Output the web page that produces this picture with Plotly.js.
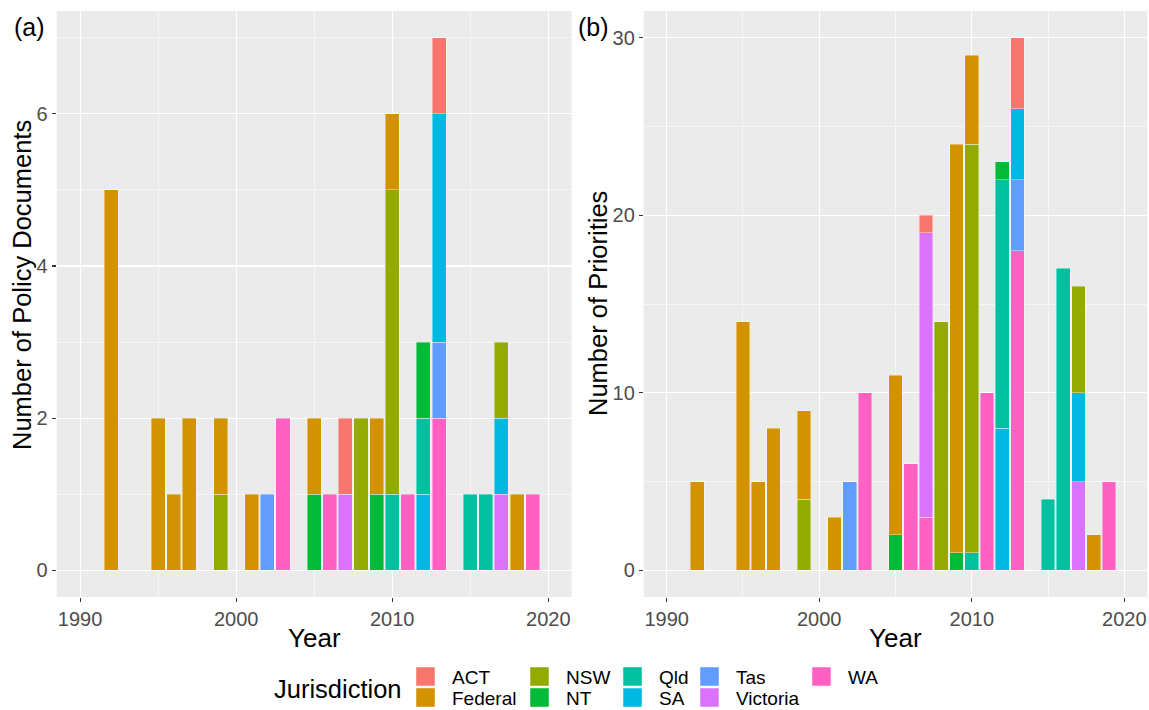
<!DOCTYPE html>
<html><head><meta charset="utf-8">
<script src="https://cdn.plot.ly/plotly-3.0.1.min.js"></script>
<style>html,body{margin:0;padding:0;background:#fff}#chart{width:1149px;height:710px}</style>
</head><body><div id="chart"></div>
<script>
// ---- data ----
const years = [1992,1995,1996,1997,1999,2001,2002,2003,2005,2006,2007,2008,2009,2010,2011,2012,2013,2015,2016,2017,2018,2019];
const jurisdictions = ['ACT','Federal','NSW','NT','Qld','SA','Tas','Victoria','WA'];
const jurisdictionColors = ['#F8766D','#D39200','#93AA00','#00BA38','#00C19F','#00B9E3','#619CFF','#DB72FB','#FF61C3'];

// (a) Number of policy documents
const docACT      = [0,0,0,0,0,0,0,0,0,0,1,0,0,0,0,0,1,0,0,0,0,0];
const docFederal  = [5,2,1,2,1,1,0,0,1,0,0,0,1,1,0,0,0,0,0,0,1,0];
const docNSW      = [0,0,0,0,1,0,0,0,0,0,0,2,0,4,0,0,0,0,0,1,0,0];
const docNT       = [0,0,0,0,0,0,0,0,1,0,0,0,1,0,0,1,0,0,0,0,0,0];
const docQld      = [0,0,0,0,0,0,0,0,0,0,0,0,0,1,0,1,0,1,1,0,0,0];
const docSA       = [0,0,0,0,0,0,0,0,0,0,0,0,0,0,0,1,3,0,0,1,0,0];
const docTas      = [0,0,0,0,0,0,1,0,0,0,0,0,0,0,0,0,1,0,0,0,0,0];
const docVictoria = [0,0,0,0,0,0,0,0,0,0,1,0,0,0,0,0,0,0,0,1,0,0];
const docWA       = [0,0,0,0,0,0,0,2,0,1,0,0,0,0,1,0,2,0,0,0,0,1];

// (b) Number of priorities
const priACT      = [0,0,0,0,0,0,0,0,0,0,1,0,0,0,0,0,4,0,0,0,0,0];
const priFederal  = [5,14,5,8,5,3,0,0,9,0,0,0,23,5,0,0,0,0,0,0,2,0];
const priNSW      = [0,0,0,0,4,0,0,0,0,0,0,14,0,23,0,0,0,0,0,6,0,0];
const priNT       = [0,0,0,0,0,0,0,0,2,0,0,0,1,0,0,1,0,0,0,0,0,0];
const priQld      = [0,0,0,0,0,0,0,0,0,0,0,0,0,1,0,14,0,4,17,0,0,0];
const priSA       = [0,0,0,0,0,0,0,0,0,0,0,0,0,0,0,8,4,0,0,5,0,0];
const priTas      = [0,0,0,0,0,0,5,0,0,0,0,0,0,0,0,0,4,0,0,0,0,0];
const priVictoria = [0,0,0,0,0,0,0,0,0,0,16,0,0,0,0,0,0,0,0,5,0,0];
const priWA       = [0,0,0,0,0,0,0,10,0,6,3,0,0,0,10,0,18,0,0,0,0,5];

const xTicks = [1990,2000,2010,2020];
const yTicksA = [0,2,4,6];
const yTicksB = [0,10,20,30];

// ---- build ----
const W = 1149, H = 710;
const px = x => x / W, py = y => 1 - y / H;
const FONT = 'Liberation Sans, Arial, Helvetica, sans-serif';

const docs = {ACT:docACT, Federal:docFederal, NSW:docNSW, NT:docNT, Qld:docQld, SA:docSA, Tas:docTas, Victoria:docVictoria, WA:docWA};
const pris = {ACT:priACT, Federal:priFederal, NSW:priNSW, NT:priNT, Qld:priQld, SA:priSA, Tas:priTas, Victoria:priVictoria, WA:priWA};
const colorOf = {};
jurisdictions.forEach((j,i) => colorOf[j] = jurisdictionColors[i]);

// ggplot stacks the first factor level on top -> plotly: last trace on top
const stackOrder = jurisdictions.slice().reverse();
const traces = [];
[[docs,'x','y'],[pris,'x2','y2']].forEach(([set, xa, ya]) => {
  stackOrder.forEach(j => {
    traces.push({
      type:'bar', name:j, x:years, y:set[j].map(v => v === 0 ? null : v),
      xaxis:xa, yaxis:ya, width:0.9,
      marker:{color:colorOf[j], line:{color:'rgba(255,255,255,0.55)', width:0.7}},
      showlegend:false, hoverinfo:'x+y+name'
    });
  });
});

function xAxis(dom, anchor){
  return {domain:dom, anchor:anchor, range:[1988.5,2021.5], tickmode:'array', tickvals:xTicks,
    ticks:'outside', ticklen:4, tickwidth:1.1, tickcolor:'#333333',
    tickfont:{family:FONT, size:20, color:'#4D4D4D'},
    showgrid:true, gridcolor:'#FFFFFF', gridwidth:1.1,
    minor:{tickmode:'array', tickvals:[1995,2005,2015], showgrid:true, gridcolor:'#FFFFFF', gridwidth:0.55, ticks:''},
    zeroline:false, showline:false, fixedrange:true, automargin:false};
}
function yAxis(range, tv, minorTv, anchor){
  return {domain:[py(597), py(11)], anchor:anchor, range:range, tickmode:'array', tickvals:tv,
    ticks:'outside', ticklen:4, tickwidth:1.1, tickcolor:'#333333',
    tickfont:{family:FONT, size:20, color:'#4D4D4D'},
    showgrid:true, gridcolor:'#FFFFFF', gridwidth:1.1,
    minor:{tickmode:'array', tickvals:minorTv, showgrid:true, gridcolor:'#FFFFFF', gridwidth:0.55, ticks:''},
    zeroline:false, showline:false, fixedrange:true, automargin:false};
}

const annotations = [
  {text:'(a)', x:px(12), y:py(27), xanchor:'left', yanchor:'middle', font:{size:25}},
  {text:'(b)', x:px(576), y:py(27), xanchor:'left', yanchor:'middle', font:{size:25}},
  {text:'Year', x:px(314), y:py(638), xanchor:'center', yanchor:'middle', font:{size:26}},
  {text:'Year', x:px(895), y:py(638), xanchor:'center', yanchor:'middle', font:{size:26}},
  {text:'Number of Policy Documents', x:px(22), y:py(285), textangle:-90, xanchor:'center', yanchor:'middle', font:{size:25.5}},
  {text:'Number of Priorities', x:px(598), y:py(304), textangle:-90, xanchor:'center', yanchor:'middle', font:{size:25.5}},
  {text:'Jurisdiction', x:px(272), y:py(689), xanchor:'left', yanchor:'middle', font:{size:25.5}}
].map(a => Object.assign({xref:'paper', yref:'paper', showarrow:false}, a, {font:Object.assign({family:FONT, color:'#000000'}, a.font)}));

// legend (column-major, 2 rows like ggplot)
const legendColX = [416, 530, 623, 700, 812];
const legendRowY = [667, 688];
const shapes = [];
jurisdictions.forEach((j,k) => {
  const col = Math.floor(k/2), row = k % 2;
  const x0 = legendColX[col], y0 = legendRowY[row];
  shapes.push({type:'rect', xref:'paper', yref:'paper', x0:px(x0), x1:px(x0+19), y0:py(y0+19), y1:py(y0),
    fillcolor:colorOf[j], line:{color:'rgba(255,255,255,0.6)', width:0.8}});
  annotations.push({text:j, xref:'paper', yref:'paper', showarrow:false, x:px(x0+34), y:py(y0+10),
    xanchor:'left', yanchor:'middle', font:{family:FONT, size:19, color:'#000000'}});
});

const layout = {
  width:W, height:H, margin:{l:0, r:0, t:0, b:0},
  paper_bgcolor:'#FFFFFF', plot_bgcolor:'#EBEBEB',
  barmode:'stack', showlegend:false, font:{family:FONT},
  xaxis: xAxis([px(56.7), px(571.7)], 'y'),
  yaxis: yAxis([-0.35, 7.35], yTicksA, [1,3,5,7], 'x'),
  xaxis2: xAxis([px(643.8), px(1147.2)], 'y2'),
  yaxis2: yAxis([-1.5, 31.5], yTicksB, [5,15,25], 'x2'),
  annotations:annotations, shapes:shapes
};

Plotly.newPlot('chart', traces, layout, {staticPlot:true, displayModeBar:false});
</script></body></html>
